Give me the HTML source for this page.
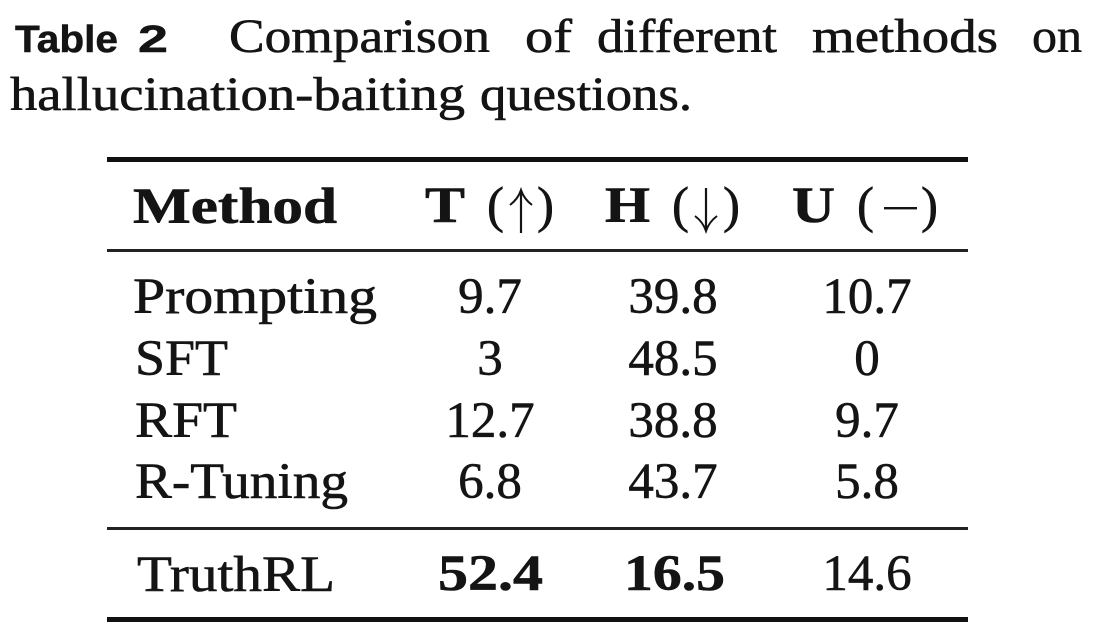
<!DOCTYPE html>
<html>
<head>
<meta charset="utf-8">
<style>
  html, body { margin: 0; padding: 0; background: #ffffff; }
  body { width: 1098px; height: 643px; overflow: hidden; }
  svg { display: block; }
  .s { font-family: "Liberation Serif", "DejaVu Serif", serif; fill: #141414; stroke: #141414; stroke-width: 0.6; }
  .b { font-weight: bold; }
  .sans { font-family: "Liberation Sans", "DejaVu Sans", sans-serif; font-weight: bold; fill: #141414; stroke: #141414; stroke-width: 0.5; }
</style>
</head>
<body>
<svg width="1098" height="643" viewBox="0 0 1098 643" xmlns="http://www.w3.org/2000/svg">
  <rect x="0" y="0" width="1098" height="643" fill="#ffffff"/>

  <!-- Caption line 1 -->
  <text class="sans" x="15" y="52" font-size="38" textLength="103" lengthAdjust="spacingAndGlyphs">Table</text>
  <text class="sans" x="138" y="52" font-size="38" textLength="30" lengthAdjust="spacingAndGlyphs">2</text>
  <text class="s" x="229" y="52" font-size="48" textLength="261" lengthAdjust="spacingAndGlyphs">Comparison</text>
  <text class="s" x="525" y="52" font-size="48" textLength="47" lengthAdjust="spacingAndGlyphs">of</text>
  <text class="s" x="597" y="52" font-size="48" textLength="180" lengthAdjust="spacingAndGlyphs">different</text>
  <text class="s" x="812" y="52" font-size="48" textLength="186" lengthAdjust="spacingAndGlyphs">methods</text>
  <text class="s" x="1032" y="52" font-size="48" textLength="50" lengthAdjust="spacingAndGlyphs">on</text>

  <!-- Caption line 2 -->
  <text class="s" x="10" y="110" font-size="48" textLength="455" lengthAdjust="spacingAndGlyphs">hallucination-baiting</text>
  <text class="s" x="480" y="110" font-size="48" textLength="212" lengthAdjust="spacingAndGlyphs">questions.</text>

  <!-- Rules -->
  <rect x="107" y="157" width="861" height="5" fill="#111"/>
  <rect x="107" y="249" width="861" height="3" fill="#222"/>
  <rect x="107" y="527" width="861" height="3" fill="#222"/>
  <rect x="107" y="617" width="861" height="5" fill="#111"/>

  <!-- Header -->
  <text class="s b" x="133" y="223" font-size="51" textLength="204" lengthAdjust="spacingAndGlyphs">Method</text>

  <text class="s b" x="425" y="222" font-size="51" textLength="40" lengthAdjust="spacingAndGlyphs">T</text>
  <text class="s" x="487" y="222" font-size="51">(</text>
  <text class="s" x="554" y="222" font-size="51" text-anchor="end">)</text>
  <path d="M521 192 L521 233" stroke="#141414" stroke-width="2.2" fill="none"/>
  <path d="M510 205 Q518 199 521 190 Q524 199 532 205" stroke="#141414" stroke-width="2" fill="none"/>

  <text class="s b" x="605" y="222" font-size="51" textLength="45" lengthAdjust="spacingAndGlyphs">H</text>
  <text class="s" x="672" y="222" font-size="51">(</text>
  <text class="s" x="740" y="222" font-size="51" text-anchor="end">)</text>
  <path d="M706 188 L706 229" stroke="#141414" stroke-width="2.2" fill="none"/>
  <path d="M695 216 Q703 222 706 231 Q709 222 717 216" stroke="#141414" stroke-width="2" fill="none"/>

  <text class="s b" x="792" y="222" font-size="51" textLength="43" lengthAdjust="spacingAndGlyphs">U</text>
  <text class="s" x="857" y="222" font-size="51">(</text>
  <text class="s" x="938" y="222" font-size="51" text-anchor="end">)</text>
  <rect x="884" y="207" width="33" height="2.4" fill="#141414"/>

  <!-- Rows -->
  <text class="s" x="133" y="313" font-size="51" textLength="244" lengthAdjust="spacingAndGlyphs">Prompting</text>
  <text class="s" x="490" y="313" font-size="51" text-anchor="middle">9.7</text>
  <text class="s" x="673" y="313" font-size="51" text-anchor="middle">39.8</text>
  <text class="s" x="867" y="313" font-size="51" text-anchor="middle">10.7</text>

  <text class="s" x="135" y="375" font-size="51" textLength="93" lengthAdjust="spacingAndGlyphs">SFT</text>
  <text class="s" x="490" y="375" font-size="51" text-anchor="middle">3</text>
  <text class="s" x="673" y="375" font-size="51" text-anchor="middle">48.5</text>
  <text class="s" x="867" y="375" font-size="51" text-anchor="middle">0</text>

  <text class="s" x="135" y="437" font-size="51" textLength="102" lengthAdjust="spacingAndGlyphs">RFT</text>
  <text class="s" x="490" y="437" font-size="51" text-anchor="middle">12.7</text>
  <text class="s" x="673" y="437" font-size="51" text-anchor="middle">38.8</text>
  <text class="s" x="867" y="437" font-size="51" text-anchor="middle">9.7</text>

  <text class="s" x="135" y="498" font-size="51" textLength="213" lengthAdjust="spacingAndGlyphs">R-Tuning</text>
  <text class="s" x="490" y="498" font-size="51" text-anchor="middle">6.8</text>
  <text class="s" x="673" y="498" font-size="51" text-anchor="middle">43.7</text>
  <text class="s" x="867" y="498" font-size="51" text-anchor="middle">5.8</text>

  <text class="s" x="137" y="591" font-size="51" textLength="198" lengthAdjust="spacingAndGlyphs">TruthRL</text>
  <text class="s b" x="438" y="590" font-size="51" textLength="105" lengthAdjust="spacingAndGlyphs">52.4</text>
  <text class="s b" x="624" y="590" font-size="51" textLength="101" lengthAdjust="spacingAndGlyphs">16.5</text>
  <text class="s" x="867" y="590" font-size="51" text-anchor="middle">14.6</text>
</svg>
</body>
</html>
